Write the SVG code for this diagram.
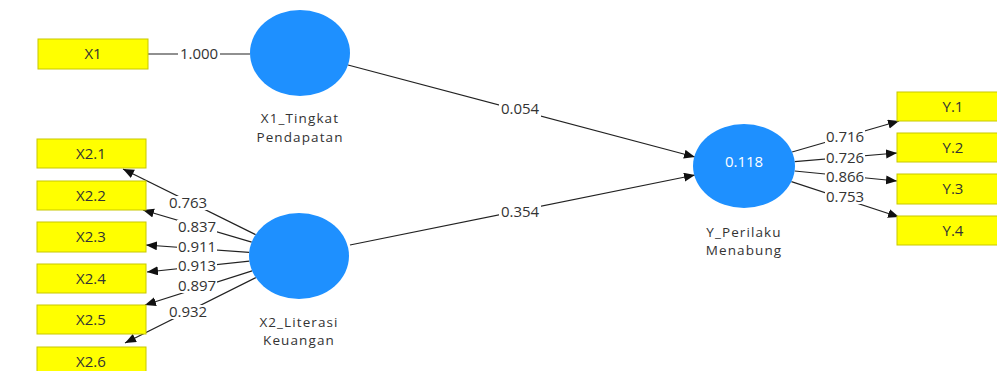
<svg xmlns="http://www.w3.org/2000/svg" width="997" height="371" viewBox="0 0 997 371">
<defs>
<style>
.box{fill:#ffff00;stroke:#c8c800;stroke-width:1}
.lat{fill:#1e90ff}
.t{font-family:"Open Sans","DejaVu Sans",sans-serif;font-size:15px;fill:#333;text-anchor:middle}
.n{font-family:"Open Sans","DejaVu Sans",sans-serif;font-size:13.5px;letter-spacing:1.1px;fill:#333;text-anchor:middle}
.w{fill:#fff;font-family:"Open Sans","DejaVu Sans",sans-serif;font-size:15px;text-anchor:middle}
.e{stroke:#222;stroke-width:1.2;fill:none}
.bg{fill:#fff}
</style>
<marker id="ah" markerUnits="userSpaceOnUse" markerWidth="12" markerHeight="10" refX="11" refY="4.5" orient="auto">
<path d="M0,0 L11,4.5 L0,9 z" fill="#111"/>
</marker>
</defs>
<rect width="997" height="371" fill="#fff"/>
<g id="connectors">
<line class="e" x1="148" y1="54" x2="250" y2="54"/>
<line class="e" x1="348" y1="65" x2="695" y2="157" marker-end="url(#ah)"/>
<line class="e" x1="350" y1="245" x2="695" y2="175" marker-end="url(#ah)"/>
<line class="e" x1="255.6" y1="234.6" x2="123" y2="169" marker-end="url(#ah)"/>
<line class="e" x1="251.7" y1="242.1" x2="143" y2="210" marker-end="url(#ah)"/>
<line class="e" x1="249.1" y1="252.4" x2="146" y2="245" marker-end="url(#ah)"/>
<line class="e" x1="249.4" y1="261.2" x2="147" y2="272" marker-end="url(#ah)"/>
<line class="e" x1="252.1" y1="270.9" x2="145" y2="305" marker-end="url(#ah)"/>
<line class="e" x1="255.8" y1="277.6" x2="125" y2="343" marker-end="url(#ah)"/>
<line class="e" x1="792.1" y1="152" x2="899" y2="121" marker-end="url(#ah)"/>
<line class="e" x1="794.7" y1="161.7" x2="897" y2="153" marker-end="url(#ah)"/>
<line class="e" x1="794.6" y1="171" x2="897" y2="181" marker-end="url(#ah)"/>
<line class="e" x1="791.4" y1="181.6" x2="899" y2="217" marker-end="url(#ah)"/>
<g id="edge-labels">
<rect class="bg" x="178" y="47" width="42" height="15"/><text class="t" x="199" y="59">1.000</text>
<rect class="bg" x="499" y="102" width="42" height="15"/><text class="t" x="520" y="114">0.054</text>
<rect class="bg" x="499" y="205" width="42" height="15"/><text class="t" x="520" y="217">0.354</text>
<rect class="bg" x="168" y="196" width="40" height="14"/><text class="t" x="188" y="208">0.763</text>
<rect class="bg" x="177" y="220" width="40" height="14"/><text class="t" x="197" y="232">0.837</text>
<rect class="bg" x="177" y="240" width="40" height="14"/><text class="t" x="197" y="252">0.911</text>
<rect class="bg" x="177" y="259" width="40" height="14"/><text class="t" x="197" y="271">0.913</text>
<rect class="bg" x="177" y="279" width="40" height="14"/><text class="t" x="197" y="291">0.897</text>
<rect class="bg" x="168" y="305" width="40" height="14"/><text class="t" x="188" y="317">0.932</text>
<rect class="bg" x="825" y="130" width="40" height="14"/><text class="t" x="845" y="142">0.716</text>
<rect class="bg" x="825" y="151" width="40" height="14"/><text class="t" x="845" y="163">0.726</text>
<rect class="bg" x="825" y="170" width="40" height="14"/><text class="t" x="845" y="182">0.866</text>
<rect class="bg" x="825" y="190" width="40" height="14"/><text class="t" x="845" y="202">0.753</text>
</g>
</g>
<g id="X1"><rect class="box" x="38" y="39" width="110" height="30"/><text class="t" x="93" y="59">X1</text></g>
<g id="X2.1"><rect class="box" x="37" y="139" width="109" height="29"/><text class="t" x="91" y="159">X2.1</text></g>
<g id="X2.2"><rect class="box" x="37" y="181" width="109" height="29"/><text class="t" x="91" y="201">X2.2</text></g>
<g id="X2.3"><rect class="box" x="37" y="222" width="109" height="30"/><text class="t" x="91" y="242">X2.3</text></g>
<g id="X2.4"><rect class="box" x="37" y="264" width="109" height="29"/><text class="t" x="91" y="284">X2.4</text></g>
<g id="X2.5"><rect class="box" x="37" y="305" width="109" height="29"/><text class="t" x="91" y="325">X2.5</text></g>
<g id="X2.6"><rect class="box" x="37" y="347" width="109" height="29"/><text class="t" x="91" y="367">X2.6</text></g>
<g id="Y.1"><rect class="box" x="897" y="92" width="110" height="29"/><text class="t" x="953" y="112">Y.1</text></g>
<g id="Y.2"><rect class="box" x="897" y="133" width="110" height="29"/><text class="t" x="953" y="153">Y.2</text></g>
<g id="Y.3"><rect class="box" x="897" y="174" width="110" height="30"/><text class="t" x="953" y="194">Y.3</text></g>
<g id="Y.4"><rect class="box" x="897" y="216" width="110" height="29"/><text class="t" x="953" y="236">Y.4</text></g>
<g id="X1_Tingkat_Pendapatan"><ellipse class="lat" cx="300" cy="53" rx="50" ry="43"/><text class="n" x="300" y="123">X1_Tingkat</text><text class="n" x="300" y="141.5">Pendapatan</text></g>
<g id="X2_Literasi_Keuangan"><ellipse class="lat" cx="299" cy="256" rx="50" ry="43"/><text class="n" x="299" y="326.5">X2_Literasi</text><text class="n" x="299" y="345">Keuangan</text></g>
<g id="Y_Perilaku_Menabung"><ellipse class="lat" cx="744" cy="166" rx="51" ry="42"/><text class="w" x="744" y="167">0.118</text><text class="n" x="744" y="236.5">Y_Perilaku</text><text class="n" x="744" y="255">Menabung</text></g>
</svg>
